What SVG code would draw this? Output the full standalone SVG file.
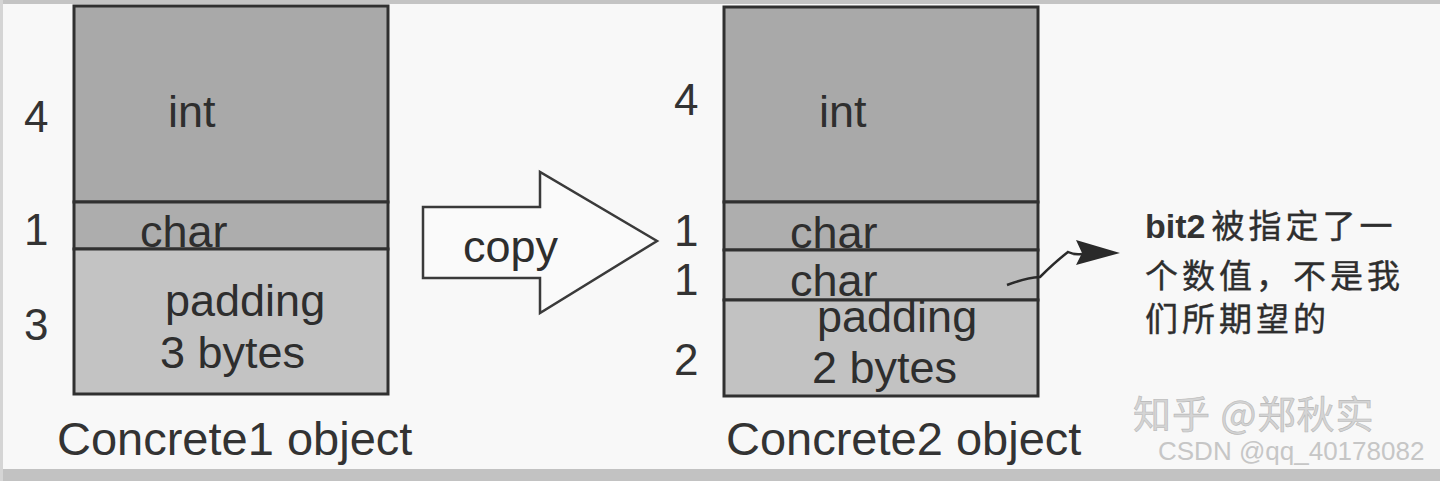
<svg xmlns="http://www.w3.org/2000/svg" width="1440" height="481" viewBox="0 0 1440 481">
<defs>
<style>
.lbl{font-family:"Liberation Sans",Arial,sans-serif;font-size:45px;fill:#2e2e2e}
.num{font-family:"Liberation Sans",Arial,sans-serif;font-size:44px;fill:#333}
.cap{font-family:"Liberation Sans",Arial,sans-serif;font-size:47px;fill:#333}
.cell{stroke:#303030;stroke-width:3}
.cjk{font-family:"Liberation Sans","Noto Sans CJK SC",sans-serif;font-size:33px;fill:#2e2e2e;letter-spacing:4px;stroke:#2e2e2e;stroke-width:0.4}
</style>
</defs>
<rect x="0" y="0" width="1440" height="481" fill="#f8f8f8"/>
<rect x="0" y="0" width="1440" height="4" fill="#c4c4c4"/>
<rect x="0" y="469" width="1440" height="12" fill="#c2c2c2"/>
<rect x="0" y="0" width="3" height="481" fill="#d5d5d5"/>

<g id="concrete1">
<rect class="cell" x="74" y="6" width="314" height="196" fill="#a9a9a9"/>
<rect class="cell" x="74" y="202" width="314" height="47" fill="#adadad"/>
<rect class="cell" x="74" y="249" width="314" height="145" fill="#c3c3c3"/>
<text class="lbl" x="168" y="127">int</text>
<text class="lbl" x="140" y="247">char</text>
<text class="lbl" x="165" y="316">padding</text>
<text class="lbl" x="160" y="368">3 bytes</text>
<text class="num" x="24" y="132">4</text>
<text class="num" x="24" y="245">1</text>
<text class="num" x="24" y="340">3</text>
<text class="cap" x="57" y="455">Concrete1 object</text>
</g>

<g id="copy-arrow">
<path d="M423,207 L540,207 L540,172 L657,241 L540,313 L540,278 L423,278 Z" fill="#fafafa" stroke="#3a3a3a" stroke-width="2.5"/>
<text class="lbl" x="463" y="262">copy</text>
</g>

<g id="concrete2">
<rect class="cell" x="724" y="7" width="314" height="195" fill="#a9a9a9"/>
<rect class="cell" x="724" y="202" width="314" height="48" fill="#aeaeae"/>
<rect class="cell" x="724" y="250" width="314" height="50" fill="#bcbcbc"/>
<rect class="cell" x="724" y="300" width="314" height="96" fill="#c2c2c2"/>
<text class="lbl" x="819" y="127">int</text>
<text class="lbl" x="790" y="248">char</text>
<text class="lbl" x="790" y="296">char</text>
<text class="lbl" x="817" y="332">padding</text>
<text class="lbl" x="812" y="383">2 bytes</text>
<text class="num" x="674" y="115">4</text>
<text class="num" x="674" y="246">1</text>
<text class="num" x="674" y="295">1</text>
<text class="num" x="674" y="375">2</text>
<text class="cap" x="726" y="455">Concrete2 object</text>
</g>

<g id="connectors">
<path d="M1007,285 Q1025,278 1040,277 Q1055,262 1068,252 Q1074,255 1082,254" fill="none" stroke="#2a2a2a" stroke-width="2.5"/>
<path d="M1076,240 L1120,253 L1076,265 L1082,253 Z" fill="#2a2a2a"/>
</g>

<g id="note">
<text x="1145" y="238"><tspan style="font-family:'Liberation Sans',Arial,sans-serif;font-size:34px;font-weight:bold;fill:#333">bit2</tspan><tspan class="cjk" dx="6">被指定了一</tspan></text>
<text class="cjk" x="1145" y="288">个数值，不是我</text>
<text class="cjk" x="1145" y="331">们所期望的</text>
</g>

<g id="watermark">
<text x="1133" y="428" style="font-family:'Noto Sans CJK SC',sans-serif;font-size:38px;fill:#d4d4d4;stroke:#b8b8b8;stroke-width:0.6;letter-spacing:1px">知乎 @郑秋实</text>
<text x="1158" y="460" style="font-family:'Liberation Sans',Arial,sans-serif;font-size:26px;fill:#c6c6c6">CSDN @qq_40178082</text>
</g>
</svg>
